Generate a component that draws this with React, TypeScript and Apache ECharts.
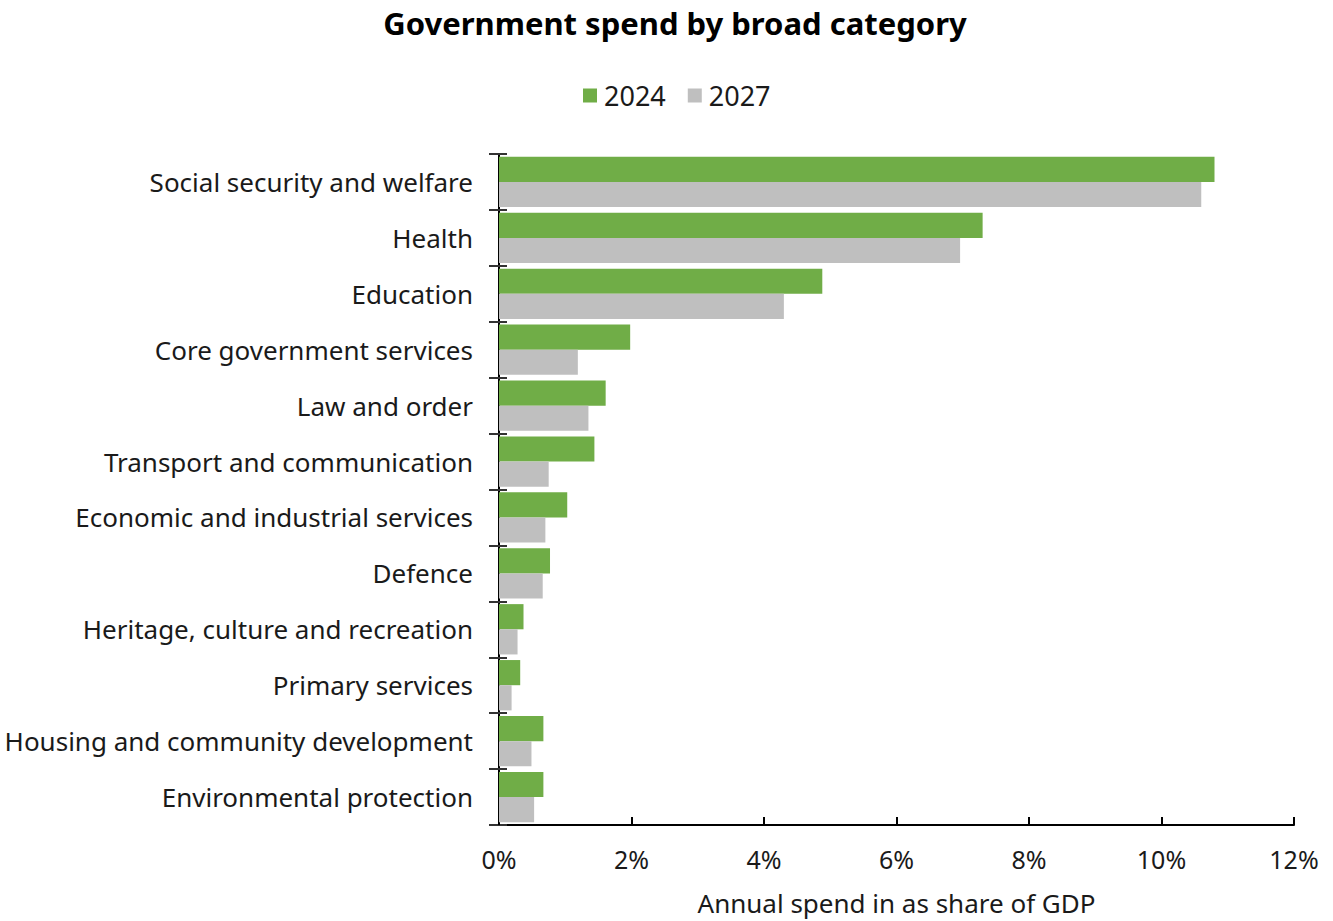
import React, { useEffect, useRef } from "react";
import * as echarts from "echarts";

const categories = [
  "Social security and welfare",
  "Health",
  "Education",
  "Core government services",
  "Law and order",
  "Transport and communication",
  "Economic and industrial services",
  "Defence",
  "Heritage, culture and recreation",
  "Primary services",
  "Housing and community development",
  "Environmental protection",
];
const values2024 = [10.8, 7.3, 4.88, 1.98, 1.61, 1.44, 1.03, 0.77, 0.37, 0.32, 0.67, 0.67];
const values2027 = [10.6, 6.96, 4.3, 1.19, 1.35, 0.75, 0.7, 0.66, 0.28, 0.19, 0.49, 0.53];
const seriesNames = ["2024", "2027"];
const xTicks = [0, 2, 4, 6, 8, 10, 12];

const FONT = "Noto Sans";

export default function App() {
  const ref = useRef<HTMLDivElement>(null);
  useEffect(() => {
    if (!ref.current) return;
    const chart = echarts.init(ref.current, null, { renderer: "svg" });
    chart.setOption({
      animation: false,
      backgroundColor: "#ffffff",
      title: {
        text: "Government spend by broad category",
        left: 670,
        textAlign: "center",
        top: 2,
        textStyle: { fontFamily: FONT, fontSize: 31, fontWeight: "bold", color: "#000" },
      },
      legend: {
        data: seriesNames,
        left: 578,
        top: 77,
        itemWidth: 14,
        itemHeight: 14,
        itemGap: 22,
        icon: "rect",
        textStyle: { fontFamily: FONT, fontSize: 27, color: "#1a1a1a", padding: [0, 0, 0, 2] },
      },
      grid: { left: 499, right: 39, top: 154, bottom: 95, containLabel: false },
      xAxis: {
        type: "value",
        min: xTicks[0],
        max: xTicks[xTicks.length - 1],
        interval: 2,
        name: "Annual spend in as share of GDP",
        nameLocation: "middle",
        nameGap: 65,
        nameTextStyle: { fontFamily: FONT, fontSize: 26, color: "#1a1a1a" },
        axisLine: { show: true, lineStyle: { color: "#000", width: 2 } },
        axisTick: { show: true, inside: true, length: 8, lineStyle: { color: "#000", width: 2 } },
        splitLine: { show: false },
        axisLabel: {
          fontFamily: FONT,
          fontSize: 25,
          color: "#1a1a1a",
          margin: 21,
          formatter: (v: number) => `${v}%`,
        },
      },
      yAxis: [
        {
          type: "category",
          data: categories,
          inverse: true,
          axisLine: { show: true, lineStyle: { color: "#000", width: 2 } },
          axisTick: { show: true, length: 10, lineStyle: { color: "#333", width: 2 } },
          axisLabel: { fontFamily: FONT, fontSize: 26, color: "#1a1a1a", margin: 26 },
        },
        {
          type: "category",
          data: categories,
          inverse: true,
          position: "left",
          axisLine: { show: false },
          axisTick: { show: true, inside: true, length: 8, lineStyle: { color: "#333", width: 2 } },
          axisLabel: { show: false },
        },
      ],
      series: [
        {
          name: seriesNames[0],
          type: "bar",
          data: values2024,
          itemStyle: { color: "#70AD47" },
          barGap: "0%",
          barCategoryGap: "10%",
        },
        {
          name: seriesNames[1],
          type: "bar",
          data: values2027,
          itemStyle: { color: "#BFBFBF" },
          barGap: "0%",
          barCategoryGap: "10%",
        },
      ],
    });
    return () => chart.dispose();
  }, []);
  return (
    <div
      ref={ref}
      style={{ position: "fixed", left: 0, top: 0, width: 1333, height: 921 }}
    />
  );
}
